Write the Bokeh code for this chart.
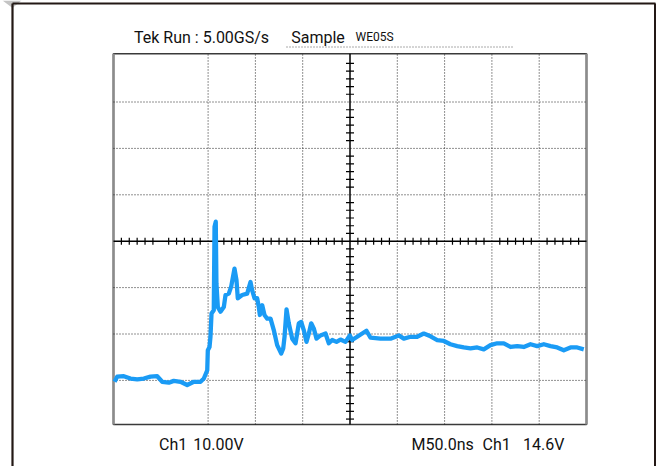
import numpy as np
from bokeh.plotting import figure
from bokeh.models import Range1d
from bokeh.core.properties import value
from bokeh.embed import file_html
from bokeh.resources import INLINE

# Ch1 trace: time (ns, 50 ns/div, screen left = 0) and voltage (V, 10 V/div, screen centre = 0)
time_ns = [1.1, 3.9, 10.9, 18.0, 25.1, 32.0, 39.1, 46.2, 51.5, 58.5, 63.7, 70.8, 77.9, 84.9,
           92.0, 95.5, 99.1, 99.7, 101.5, 102.5, 103.6, 106.0, 106.8, 108.1, 108.8, 110.3,
           113.1, 116.6, 118.4, 121.9, 124.4, 127.9, 130.0, 131.4, 136.0, 141.3, 144.8, 146.6,
           149.1, 151.9, 153.6, 154.7, 157.2, 159.6, 162.5, 166.0, 169.5, 173.0, 177.3, 179.4,
           180.8, 182.9, 185.3, 188.9, 192.4, 195.9, 198.4, 201.2, 204.0, 206.5, 209.0, 211.7,
           214.6, 218.8, 224.1, 227.6, 231.2, 235.7, 239.9, 245.2, 249.8, 252.3, 257.6, 262.9,
           267.4, 271.7, 282.2, 292.8, 301.6, 306.9, 314.0, 321.0, 328.0, 335.1, 342.2, 349.2,
           356.2, 363.3, 370.3, 377.4, 384.5, 391.4, 398.5, 405.6, 412.6, 419.7, 426.8, 433.7,
           440.8, 447.9, 454.9, 462.0, 469.0, 476.0, 483.1, 490.2, 497.1]
ch1_volts = [-30.3, -29.2, -29.1, -29.6, -29.8, -29.6, -29.2, -29.1, -30.3, -30.5, -30.1, -30.3,
             -31.0, -30.3, -30.3, -29.6, -27.8, -23.5, -22.8, -20.6, -15.6, -14.9, 3.1, 4.2,
             -9.1, -14.2, -15.2, -14.2, -11.6, -11.3, -9.8, -5.9, -8.4, -12.3, -11.6, -11.3,
             -8.8, -10.6, -12.3, -12.3, -14.2, -15.9, -13.8, -15.9, -16.7, -16.7, -19.2, -22.4,
             -24.2, -23.1, -20.6, -14.7, -17.7, -21.0, -22.0, -17.7, -17.4, -19.2, -21.7, -19.9,
             -17.7, -18.8, -21.0, -20.3, -19.9, -22.0, -21.3, -21.7, -21.2, -21.7, -20.3, -21.3,
             -20.6, -19.9, -19.3, -20.8, -21.0, -21.0, -20.3, -21.0, -20.6, -20.6, -19.9, -20.5,
             -21.3, -21.5, -22.2, -22.6, -22.9, -23.1, -22.9, -23.3, -22.4, -22.0, -22.0, -22.8,
             -22.6, -22.8, -22.2, -22.6, -22.2, -22.6, -22.9, -23.5, -22.9, -22.9, -23.3]

grid_time_ticks = [100, 150, 200, 300, 350, 400, 450]
grid_volt_ticks = [-30, -20, -10, 10, 20, 30]

title_parts = ["Tek Run : 5.00GS/s", "Sample", "WE05S"]
footer_parts = ["Ch1", "10.00V", "M50.0ns", "Ch1", "14.6V"]

# ---- layout (canvas pixels) ----
W, H = 656, 466
SCR_L, SCR_R = 113.0, 586.0          # screen left/right edge in px  (0 .. 500 ns)
CY, PX_DIV_Y = 240.7, 46.4           # y of 0 V, px per 10 V
T0, T1 = 0.0, 500.0
V_BOT, V_TOP = -39.5, 40.4
pxns = (SCR_R - SCR_L) / (T1 - T0)
pxv = PX_DIV_Y / 10.0


def tx(px):
    return T0 + (px - SCR_L) / pxns


def vy(py):
    return (CY - py) / pxv


FONT = "Roboto"

p = figure(width=W, height=H, output_backend="svg", toolbar_location=None,
           x_range=Range1d(tx(0), tx(W)), y_range=Range1d(vy(H), vy(0)),
           x_axis_type=None, y_axis_type=None,
           min_border_left=0, min_border_right=0, min_border_top=0, min_border_bottom=0)
p.background_fill_color = "white"
p.border_fill_color = "white"
p.outline_line_color = None
p.xgrid.visible = False
p.ygrid.visible = False

# corner shadow and outer frame of the screenshot
p.patch([tx(2), tx(21), tx(12)], [vy(0), vy(0), vy(7.5)], fill_color="#c4c4c4", line_color=None)
p.segment(x0=[tx(12), tx(12)], y0=[vy(3), vy(3)], x1=[tx(12), tx(655)], y1=[vy(H + 5), vy(3)],
          line_color="#231815", line_width=2.2)
p.segment(x0=[tx(654.5)], y0=[vy(3)], x1=[tx(654.5)], y1=[vy(H + 5)],
          line_color="#231815", line_width=2)

# scope screen
p.quad(left=[T0], right=[T1], bottom=[V_BOT], top=[V_TOP], fill_color="white",
       line_color="#3a3a3a", line_width=1.5)
p.segment(x0=[T0, T1], y0=[V_BOT, V_BOT], x1=[T0, T1], y1=[V_TOP, V_TOP],
          line_color="#8c8c8c", line_width=2.5)

# dotted graticule
p.segment(x0=grid_time_ticks, y0=[V_BOT] * len(grid_time_ticks),
          x1=grid_time_ticks, y1=[V_TOP] * len(grid_time_ticks),
          line_color="#222222", line_dash="1 2", line_width=1)
p.segment(x0=[T0] * len(grid_volt_ticks), y0=grid_volt_ticks,
          x1=[T1] * len(grid_volt_ticks), y1=grid_volt_ticks,
          line_color="#222222", line_dash="1 2", line_width=1)

# centre axes with minor ticks
p.segment(x0=[250, T0], y0=[V_BOT, 0], x1=[250, T1], y1=[V_TOP, 0],
          line_color="black", line_width=1.5)
xt = [k * 50 / 6 for k in range(1, 60) if k % 6]
p.scatter(xt, [0] * len(xt), marker="dash", angle=np.pi / 2, size=7,
          line_color="black", line_width=1.2)
yt = [k * 10 / 6 for k in range(-23, 25) if k % 6]
p.scatter([250] * len(yt), yt, marker="dash", size=8, line_color="black", line_width=1.2)

# Ch1 waveform
p.line(time_ns, ch1_volts, line_color="#1a9bf5", line_width=4.3, line_join="round")

# header
p.text(x=[tx(133.5), tx(290.7)], y=[vy(36.5), vy(36.5)], text=title_parts[:2],
       text_font=value(FONT), text_font_size="16px", text_baseline="alphabetic",
       text_color="#111111")
p.text(x=[tx(355)], y=[vy(36.5)], text=title_parts[2:],
       text_font=value(FONT), text_font_size="12px", text_baseline="alphabetic",
       text_color="#111111")
p.segment(x0=[tx(286)], y0=[vy(46.5)], x1=[tx(512)], y1=[vy(46.5)],
          line_color="#555555", line_dash="1 2", line_width=1)

# footer
p.text(x=[tx(158.6), tx(192.8), tx(411), tx(482), tx(522.6)], y=[vy(444)] * 5,
       text=footer_parts, text_font=value(FONT), text_font_size="16px",
       text_baseline="alphabetic", text_color="#111111")

open("out.html", "w").write(file_html(p, INLINE))
